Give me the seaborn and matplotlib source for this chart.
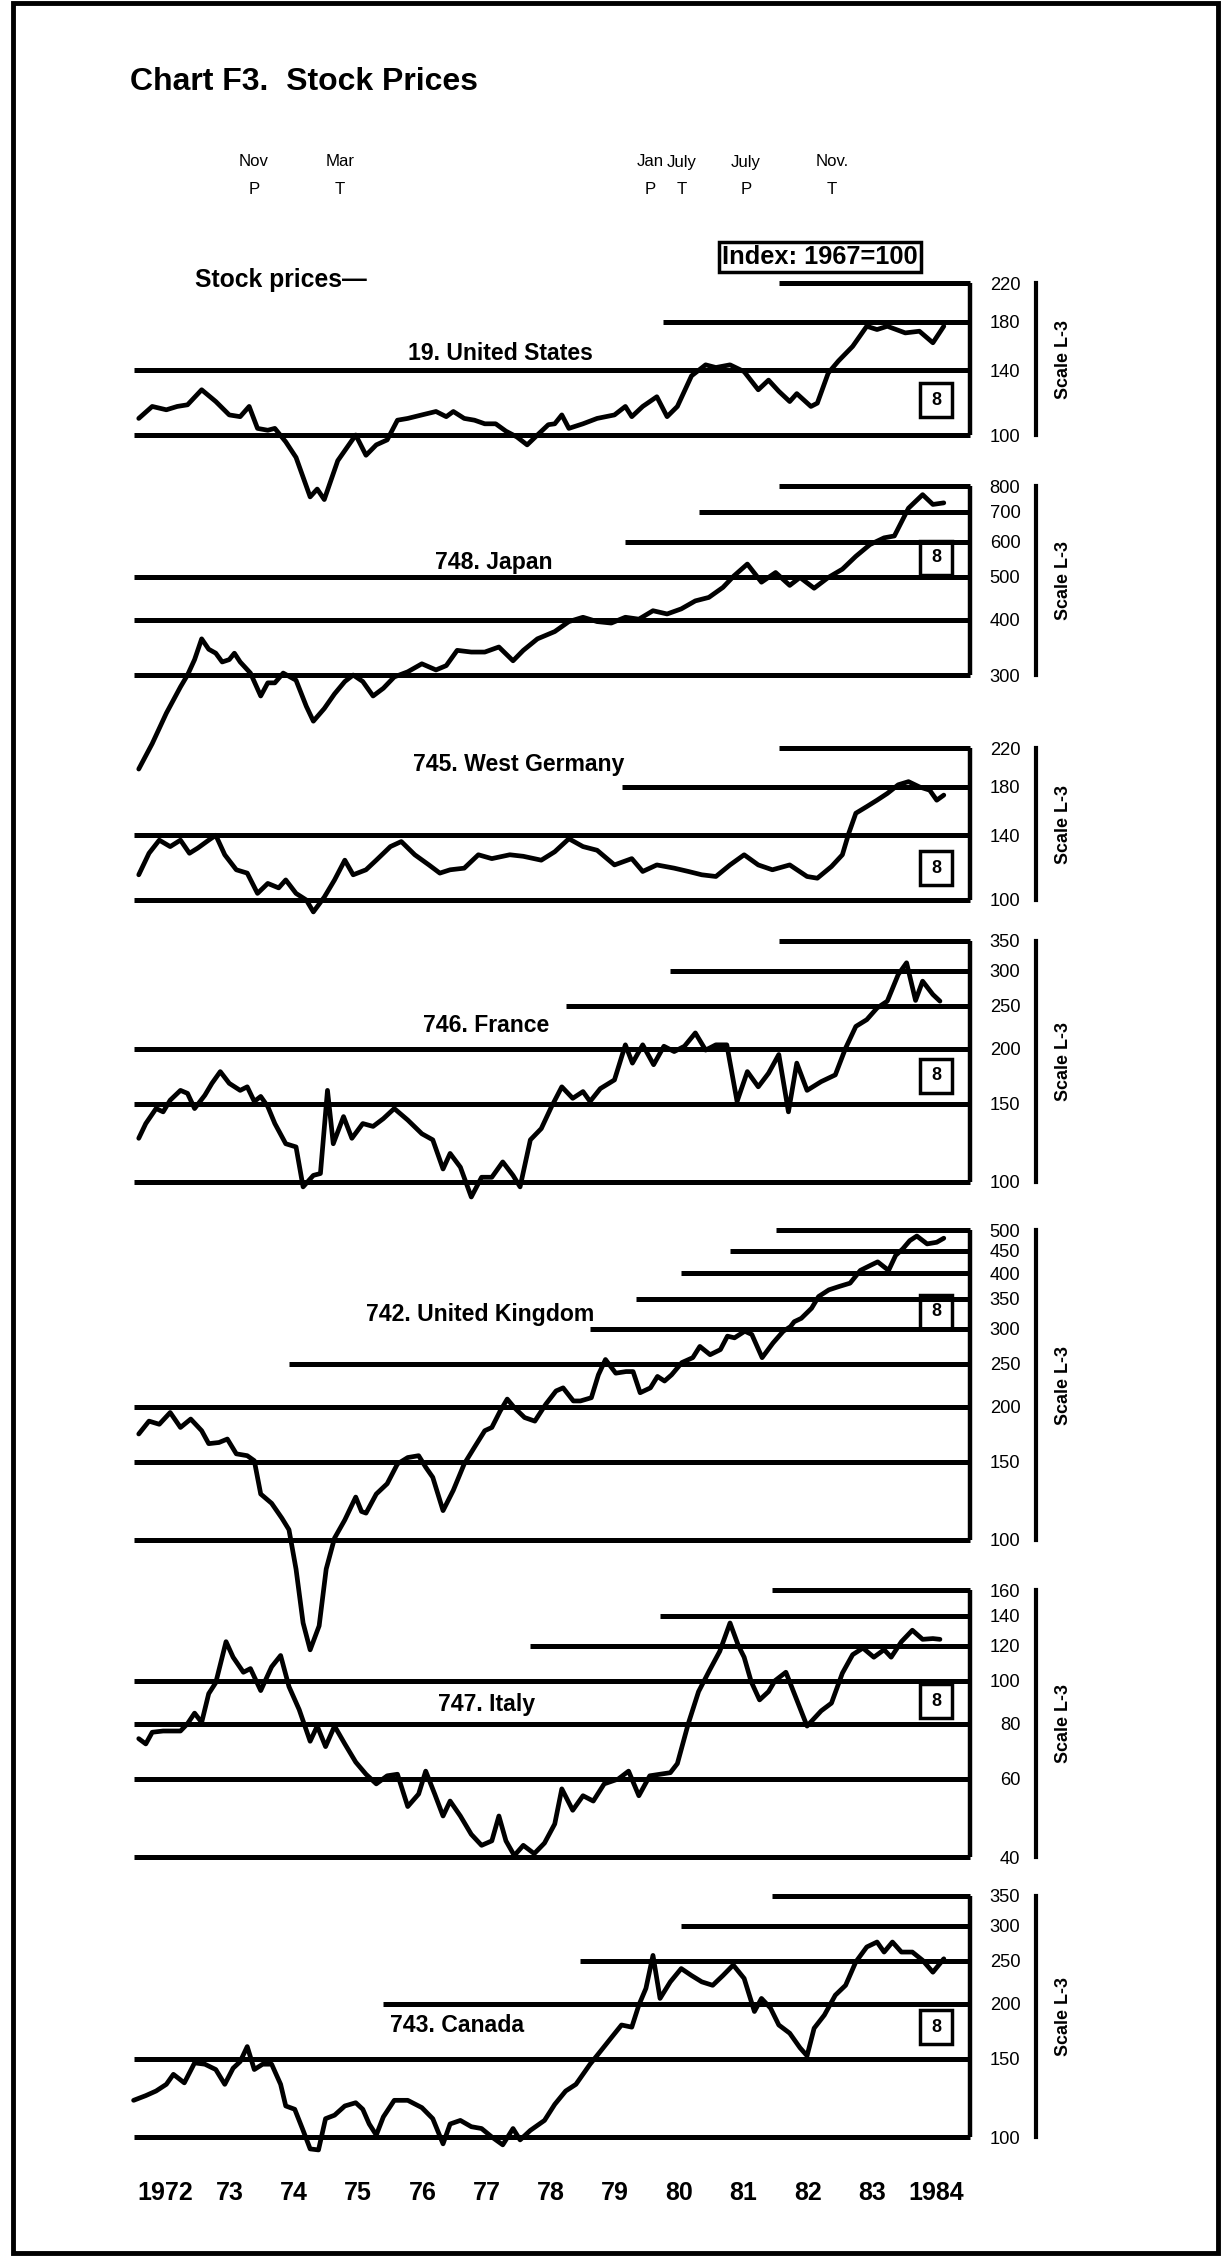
import numpy as np
import pandas as pd
import seaborn as sns
import matplotlib.pyplot as plt
from matplotlib import font_manager
from matplotlib.patches import Rectangle
from matplotlib.ticker import NullLocator

# ---- values (index, 1967 = 100, ratio scale) ----
us_t = [1972.08, 1972.29, 1972.51, 1972.68, 1972.84, 1973.06, 1973.28, 1973.49, 1973.66, 1973.80,
        1973.93, 1974.09, 1974.20, 1974.37, 1974.53, 1974.75, 1974.86, 1974.97, 1975.18, 1975.46,
        1975.62, 1975.78, 1975.95, 1976.11, 1976.27, 1976.49, 1976.71, 1976.87, 1976.98, 1977.15,
        1977.31, 1977.47, 1977.64, 1977.80, 1977.97, 1978.13, 1978.29, 1978.46, 1978.56, 1978.67,
        1978.78, 1979.00, 1979.22, 1979.49, 1979.66, 1979.76, 1979.93, 1980.15, 1980.31, 1980.47,
        1980.69, 1980.91, 1981.07, 1981.29, 1981.51, 1981.73, 1981.89, 1982.05, 1982.22, 1982.33,
        1982.55, 1982.65, 1982.82, 1982.98, 1983.20, 1983.42, 1983.58, 1983.74, 1984.02, 1984.24,
        1984.45, 1984.62]
us_v = [109, 116, 114, 116, 117, 126.5, 119, 111, 110, 116,
        103.5, 102.5, 103.5, 96.5, 89, 72.5, 75.5, 71.5, 87.5, 100,
        90, 95, 97.5, 108, 109, 111, 113, 110, 113, 109,
        108, 106, 106, 102, 99, 95, 100, 105.5, 106, 111,
        103.5, 106, 109, 111, 116, 110, 116, 122, 110, 116,
        136, 144, 142, 144, 139, 126.5, 133, 125.5, 119, 124,
        116, 118, 138, 147, 158.5, 176, 173, 176, 170, 171.5,
        161.5, 176]

jp_t = [1972.08, 1972.29, 1972.51, 1972.73, 1972.84, 1972.95, 1973.06, 1973.17, 1973.28, 1973.38,
        1973.49, 1973.57, 1973.66, 1973.82, 1973.98, 1974.09, 1974.20, 1974.33, 1974.53, 1974.69,
        1974.80, 1974.97, 1975.13, 1975.29, 1975.42, 1975.57, 1975.73, 1975.89, 1976.06, 1976.27,
        1976.49, 1976.71, 1976.87, 1977.04, 1977.26, 1977.47, 1977.69, 1977.91, 1978.07, 1978.29,
        1978.56, 1978.78, 1979.00, 1979.22, 1979.44, 1979.66, 1979.87, 1980.09, 1980.31, 1980.53,
        1980.75, 1980.96, 1981.18, 1981.35, 1981.56, 1981.78, 1982.00, 1982.22, 1982.38, 1982.60,
        1982.82, 1983.04, 1983.25, 1983.47, 1983.69, 1983.85, 1984.07, 1984.29, 1984.45, 1984.62]
jp_v = [184, 210, 246, 282, 300, 325, 362, 343, 336, 321,
        325, 336, 321, 303, 269, 288, 288, 303, 292, 255,
        236, 252, 272, 290, 300, 290, 269, 280, 297, 305,
        318, 308, 315, 341, 338, 338, 347, 323, 341, 362,
        376, 396, 405, 396, 393, 405, 401, 419, 412, 423,
        441, 449, 473, 502, 534, 486, 511, 478, 498, 471,
        498, 520, 556, 591, 612, 618, 714, 766, 728, 734]

wg_t = [1972.08, 1972.24, 1972.40, 1972.57, 1972.73, 1972.87, 1973.00, 1973.17, 1973.28, 1973.42,
        1973.60, 1973.77, 1973.93, 1974.09, 1974.26, 1974.37, 1974.53, 1974.69, 1974.80, 1974.97,
        1975.13, 1975.29, 1975.42, 1975.62, 1975.78, 1976.00, 1976.17, 1976.38, 1976.60, 1976.77,
        1976.93, 1977.15, 1977.37, 1977.58, 1977.86, 1978.07, 1978.35, 1978.56, 1978.78, 1979.00,
        1979.22, 1979.49, 1979.76, 1979.93, 1980.15, 1980.42, 1980.64, 1980.85, 1981.07, 1981.29,
        1981.51, 1981.73, 1981.95, 1982.22, 1982.49, 1982.65, 1982.87, 1983.04, 1983.14, 1983.25,
        1983.42, 1983.58, 1983.74, 1983.91, 1984.07, 1984.24, 1984.40, 1984.51, 1984.62]
wg_v = [114, 127.5, 136.5, 132, 136.5, 127.5, 131, 136.5, 140, 126.5,
        117, 115, 103.5, 109, 106.5, 111, 103.5, 100, 94, 101.5,
        111, 123, 114, 117, 123, 132, 135.5, 126.5, 120, 115,
        117, 118, 126.5, 124, 126.5, 125.5, 123, 128.5, 137.5, 132,
        129.5, 120, 124, 116, 120, 118, 116, 114, 113, 120,
        126.5, 120, 117, 120, 113, 112, 119, 126.5, 141.5, 157,
        162.5, 168, 174, 182, 185, 180, 177, 168, 172.5]

fr_t = [1972.08, 1972.19, 1972.35, 1972.46, 1972.57, 1972.73, 1972.84, 1972.95, 1973.11, 1973.22,
        1973.35, 1973.49, 1973.66, 1973.77, 1973.88, 1973.98, 1974.09, 1974.20, 1974.37, 1974.53,
        1974.64, 1974.80, 1974.91, 1975.02, 1975.11, 1975.27, 1975.40, 1975.57, 1975.73, 1975.89,
        1976.06, 1976.27, 1976.49, 1976.66, 1976.82, 1976.93, 1977.09, 1977.26, 1977.42, 1977.58,
        1977.75, 1977.91, 1978.02, 1978.18, 1978.35, 1978.51, 1978.67, 1978.84, 1979.00, 1979.11,
        1979.27, 1979.49, 1979.66, 1979.77, 1979.93, 1980.10, 1980.26, 1980.42, 1980.58, 1980.75,
        1980.91, 1981.07, 1981.24, 1981.40, 1981.56, 1981.73, 1981.89, 1982.05, 1982.20, 1982.33,
        1982.49, 1982.71, 1982.93, 1983.09, 1983.25, 1983.42, 1983.58, 1983.74, 1983.91, 1984.04,
        1984.18, 1984.29, 1984.45, 1984.56]
fr_v = [125.5, 135.5, 146.5, 144, 153, 161, 158.5, 146.5, 157, 167,
        177.5, 167, 161, 164, 152, 156, 148, 135.5, 122, 120,
        97.5, 103.5, 104.5, 161, 122, 140.5, 125.5, 135.5, 133.5, 139,
        146.5, 138, 128.5, 124.5, 107, 116, 108, 92.5, 102.5, 102.5,
        111, 103.5, 97.5, 124.5, 132, 148, 164, 154.5, 160, 152,
        162.5, 170, 204, 185.5, 204, 184, 202.5, 197, 202.5, 217,
        198.5, 204, 204, 152, 177.5, 164, 176, 194, 144, 185.5,
        161, 168.5, 174.5, 200.5, 224.5, 232.5, 247, 256, 294, 312.5,
        257, 284, 265, 256]

uk_t = [1972.08, 1972.24, 1972.40, 1972.57, 1972.73, 1972.89, 1973.06, 1973.17, 1973.33, 1973.46,
        1973.60, 1973.77, 1973.88, 1973.98, 1974.15, 1974.31, 1974.42, 1974.53, 1974.64, 1974.75,
        1974.89, 1975.00, 1975.13, 1975.29, 1975.46, 1975.55, 1975.62, 1975.78, 1975.95, 1976.11,
        1976.27, 1976.44, 1976.55, 1976.66, 1976.82, 1976.98, 1977.15, 1977.31, 1977.47, 1977.58,
        1977.71, 1977.82, 1977.93, 1978.09, 1978.25, 1978.42, 1978.58, 1978.69, 1978.85, 1978.96,
        1979.13, 1979.24, 1979.35, 1979.51, 1979.67, 1979.78, 1979.89, 1980.05, 1980.16, 1980.27,
        1980.38, 1980.54, 1980.71, 1980.82, 1980.98, 1981.14, 1981.25, 1981.36, 1981.52, 1981.63,
        1981.79, 1981.96, 1982.12, 1982.23, 1982.29, 1982.40, 1982.56, 1982.67, 1982.83, 1982.99,
        1983.16, 1983.32, 1983.48, 1983.59, 1983.76, 1983.87, 1983.98, 1984.09, 1984.20, 1984.36,
        1984.51, 1984.62]
uk_v = [173.5, 185.5, 182.5, 194, 179.5, 187.5, 176.5, 165, 166, 169,
        156.5, 155, 151, 127, 121, 112, 105.5, 86, 65, 56.5,
        64, 86, 101, 111, 125, 116, 115, 127, 134, 148.5,
        153.5, 155, 146, 138.5, 116.5, 129.5, 148.5, 162, 176.5, 179.5,
        195.5, 208, 199, 189, 185.5, 202.5, 217, 220.5, 206, 206,
        209.5, 236, 255.5, 238, 240, 240, 215, 220.5, 234, 228.5,
        236, 251.5, 258, 273.5, 262, 269, 288.5, 286, 296, 291,
        258, 278.5, 296, 303, 311, 316.5, 333.5, 354.5, 367, 373.5,
        380, 406, 417, 424.5, 406, 439, 454, 474, 485.5, 466,
        470, 480]

it_t = [1972.08, 1972.19, 1972.29, 1972.46, 1972.62, 1972.73, 1972.84, 1972.95, 1973.06, 1973.17,
        1973.28, 1973.44, 1973.55, 1973.71, 1973.82, 1973.98, 1974.15, 1974.29, 1974.42, 1974.58,
        1974.75, 1974.86, 1974.99, 1975.13, 1975.29, 1975.46, 1975.62, 1975.78, 1975.95, 1976.11,
        1976.27, 1976.44, 1976.55, 1976.69, 1976.82, 1976.93, 1977.09, 1977.26, 1977.42, 1977.58,
        1977.69, 1977.80, 1977.93, 1978.07, 1978.24, 1978.40, 1978.56, 1978.67, 1978.84, 1979.00,
        1979.16, 1979.33, 1979.55, 1979.71, 1979.87, 1980.04, 1980.20, 1980.36, 1980.47, 1980.64,
        1980.80, 1980.97, 1981.13, 1981.29, 1981.42, 1981.51, 1981.62, 1981.75, 1981.89, 1981.99,
        1982.16, 1982.33, 1982.49, 1982.71, 1982.87, 1983.04, 1983.20, 1983.36, 1983.53, 1983.69,
        1983.80, 1983.96, 1984.13, 1984.29, 1984.45, 1984.56]
it_v = [74, 72, 76.5, 77, 77, 77, 80, 84.5, 80.5, 93.5,
        99, 122.5, 113, 104.5, 106.5, 95, 107.5, 114, 97, 86,
        73, 79, 71, 79, 72, 65.5, 61.5, 58.5, 61, 61.5,
        52, 55.5, 62.5, 55.5, 49.5, 53.5, 49.5, 45, 42.5, 43.5,
        49.5, 43.5, 40.3, 42.5, 40.7, 43, 47.5, 57, 51, 55,
        53.5, 58.5, 60, 62.5, 55, 61, 61.5, 62, 65, 80,
        94.5, 105.5, 116.5, 135, 120, 113, 99.5, 90.5, 94.5, 100,
        104.5, 90.5, 79, 85.5, 89, 104, 114.5, 118.5, 113, 117.5,
        113, 122.5, 130, 124, 124.5, 124]

ca_t = [1972.00, 1972.19, 1972.35, 1972.51, 1972.62, 1972.79, 1972.95, 1973.11, 1973.28, 1973.42,
        1973.55, 1973.66, 1973.77, 1973.88, 1974.01, 1974.15, 1974.29, 1974.37, 1974.51, 1974.64,
        1974.75, 1974.88, 1974.99, 1975.13, 1975.29, 1975.46, 1975.57, 1975.67, 1975.78, 1975.89,
        1976.06, 1976.27, 1976.49, 1976.66, 1976.82, 1976.93, 1977.09, 1977.26, 1977.42, 1977.58,
        1977.75, 1977.91, 1978.02, 1978.18, 1978.40, 1978.56, 1978.73, 1978.89, 1979.11, 1979.27,
        1979.44, 1979.60, 1979.76, 1979.87, 1979.98, 1980.09, 1980.20, 1980.36, 1980.53, 1980.69,
        1980.85, 1981.02, 1981.18, 1981.34, 1981.51, 1981.67, 1981.78, 1981.92, 1982.05, 1982.22,
        1982.38, 1982.49, 1982.60, 1982.76, 1982.93, 1983.09, 1983.25, 1983.42, 1983.58, 1983.69,
        1983.82, 1983.96, 1984.13, 1984.29, 1984.45, 1984.62]
ca_v = [121, 124, 127, 131.5, 138.5, 132.5, 147, 146, 142, 131.5,
        143, 148, 160, 142, 146, 146, 131.5, 117.5, 115.5, 103.5,
        94, 93.5, 110, 112, 117.5, 119.5, 115.5, 107, 101, 111,
        121, 121, 116.5, 110, 96.5, 107, 109, 105.5, 104.5, 100,
        96, 104.5, 98.5, 103.5, 109, 118.5, 127, 131.5, 146, 156,
        167.5, 179, 177, 198.5, 216.5, 257, 205.5, 224, 240, 231.5,
        224, 220, 231.5, 244.5, 228, 192, 205.5, 195.5, 179, 171.5,
        159, 152.5, 176, 188.5, 209, 220, 248.5, 268.5, 275.5, 261.5,
        275.5, 261.5, 261.5, 250.5, 235.5, 252.5]

year_labels = ["1972", "73", "74", "75", "76", "77", "78", "79", "80", "81", "82", "83", "1984"]

# business cycle turning points along the top
cycle_dates = [1973.875, 1975.21, 1980.04, 1980.54, 1981.54, 1982.875]
cycle_months = ["Nov", "Mar", "Jan", "July", "July", "Nov."]
cycle_kinds = ["P", "T", "P", "T", "P", "T"]

# ---- layout (pixels of the 1226 x 2260 page) ----
W, H = 1226, 2260
X0, PXY = 133.6, 64.2          # x of 1972.0 and pixels per year
XMAX = 1986.1
DEC = 443.0                    # pixels per decade on the ratio scale

panels = [
    dict(label="19. United States", t=us_t, v=us_v, ticks=[100, 140, 180, 220],
         starts=[1972, 1972, 1980.25, 1982.05], ybot=435, lab=(500, 353), box=400),
    dict(label="748. Japan", t=jp_t, v=jp_v, ticks=[300, 400, 500, 600, 700, 800],
         starts=[1972, 1972, 1972, 1979.66, 1980.8, 1982.05], ybot=675, lab=(494, 563), box=558),
    dict(label="745. West Germany", t=wg_t, v=wg_v, ticks=[100, 140, 180, 220],
         starts=[1972, 1972, 1979.6, 1982.05], ybot=900, lab=(519, 765), box=868),
    dict(label="746. France", t=fr_t, v=fr_v, ticks=[100, 150, 200, 250, 300, 350],
         starts=[1972, 1972, 1972, 1978.73, 1980.36, 1982.05], ybot=1182, lab=(486, 1026), box=1076),
    dict(label="742. United Kingdom", t=uk_t, v=uk_v,
         ticks=[100, 150, 200, 250, 300, 350, 400, 450, 500],
         starts=[1972, 1972, 1972, 1974.42, 1979.11, 1979.82, 1980.53, 1981.29, 1982.0],
         ybot=1540, lab=(480, 1314), box=1312),
    dict(label="747. Italy", t=it_t, v=it_v, ticks=[40, 60, 80, 100, 120, 140, 160],
         starts=[1972, 1972, 1972, 1972, 1978.18, 1980.2, 1981.95], ybot=1857, lab=(486, 1705), box=1701),
    dict(label="743. Canada", t=ca_t, v=ca_v, ticks=[100, 150, 200, 250, 300, 350],
         starts=[1972, 1972, 1975.89, 1978.95, 1980.53, 1981.95], ybot=2137, lab=(457, 2025), box=2027),
]

sns.set_theme(style="white")
names = {f.name for f in font_manager.fontManager.ttflist}
if "Liberation Sans Narrow" in names:
    NARROW, NS = "Liberation Sans Narrow", 1.0
elif "Liberation Sans" in names:
    NARROW, NS = "Liberation Sans", 0.83
else:
    NARROW, NS = "DejaVu Sans", 0.75
plt.rcParams["font.family"] = ["Liberation Sans", "DejaVu Sans"]
plt.rcParams["text.color"] = "black"
plt.rcParams["axes.labelcolor"] = "black"
plt.rcParams["xtick.color"] = "black"
plt.rcParams["ytick.color"] = "black"


def fx(x):
    return x / W


def fy(y):
    return 1 - y / H


fig = plt.figure(figsize=(W / 100, H / 100), dpi=100)
fig.patch.set_facecolor("white")

axes = []
for p in panels:
    vmin, vmax = p["ticks"][0], p["ticks"][-1]
    ybot = p["ybot"]
    ytop = ybot - DEC * np.log10(vmax / vmin)
    ax = fig.add_axes([fx(X0), fy(ybot), (XMAX - 1972) * PXY / W, (ybot - ytop) / H])
    ax.patch.set_alpha(0)

    df = pd.DataFrame({"year": p["t"], "index": p["v"]})
    sns.lineplot(data=df, x="year", y="index", ax=ax, color="black", linewidth=3.4,
                 estimator=None, sort=False)
    for ln in ax.lines:
        ln.set_clip_on(False)
        ln.set_solid_joinstyle("round")

    ax.set_yscale("log")
    ax.set_ylim(vmin, vmax)
    ax.set_xlim(1972, XMAX)

    hl = ax.hlines(p["ticks"], p["starts"], 1985.03, colors="black", linewidth=3.6)
    hl.set_clip_on(False)
    vl = ax.vlines(1985.03, vmin, vmax, colors="black", linewidth=3.2)
    vl.set_clip_on(False)

    for s in ["top", "right", "bottom"]:
        ax.spines[s].set_visible(False)
    ax.spines["left"].set_position(("data", 1986.05))
    ax.spines["left"].set_bounds(vmin, vmax)
    ax.spines["left"].set_linewidth(3)
    ax.spines["left"].set_color("black")

    ax.set_yticks(p["ticks"])
    ax.set_yticklabels([str(k) for k in p["ticks"]])
    ax.yaxis.set_minor_locator(NullLocator())
    ax.tick_params(axis="y", which="major", direction="out", length=8, width=3,
                   pad=3, labelsize=16 * NS, colors="black")
    for lbl in ax.get_yticklabels():
        lbl.set_fontfamily(NARROW)
    ax.set_xticks([])
    ax.set_xlabel("")
    ax.set_ylabel("")

    # series label, scale label and the little box
    fig.text(fx(p["lab"][0]), fy(p["lab"][1]), p["label"], ha="center", va="center",
             fontsize=20 * NS, fontweight="bold", family=NARROW)
    fig.text(fx(1064), fy((ytop + ybot) / 2), "Scale L-3", rotation=90, ha="center",
             va="center", fontsize=15.5 * NS, fontweight="bold", family=NARROW)
    fig.add_artist(Rectangle((fx(936 - 16), fy(p["box"] + 17)), 32 / W, 34 / H,
                             transform=fig.transFigure, fill=False, lw=2.5, ec="black"))
    fig.text(fx(936), fy(p["box"]), "8", ha="center", va="center",
             fontsize=15.5 * NS, fontweight="bold", family=NARROW)
    axes.append(ax)

# years along the bottom of the last panel
ax_last = axes[-1]
ax_last.set_xticks([1972.5 + i for i in range(len(year_labels))])
ax_last.set_xticklabels(year_labels)
ax_last.tick_params(axis="x", length=0, pad=32, labelsize=18)
for lbl in ax_last.get_xticklabels():
    lbl.set_fontweight("bold")

# turning points at the top
for d, m, k in zip(cycle_dates, cycle_months, cycle_kinds):
    xp = X0 + (d - 1972) * PXY
    fig.text(fx(xp), fy(162), m, ha="center", va="center", fontsize=14.5 * NS, family=NARROW)
    fig.text(fx(xp), fy(189), k, ha="center", va="center", fontsize=14.5 * NS, family=NARROW)

fig.text(fx(130), fy(82), "Chart F3.  Stock Prices", ha="left", va="center",
         fontsize=23, fontweight="bold")
fig.text(fx(195), fy(280), "Stock prices\u2014", ha="left", va="center",
         fontsize=21.5 * NS, fontweight="bold", family=NARROW)
fig.text(fx(820), fy(257), "Index: 1967=100", ha="center", va="center",
         fontsize=22 * NS, fontweight="bold", family=NARROW,
         bbox=dict(boxstyle="square,pad=0.12", fc="white", ec="black", lw=2.5))

# page frame
fig.add_artist(Rectangle((fx(13), fy(2253)), (1218 - 13) / W, (2253 - 3) / H,
                         transform=fig.transFigure, fill=False, lw=3.5, ec="black"))

fig.savefig("out.png", dpi=100)
